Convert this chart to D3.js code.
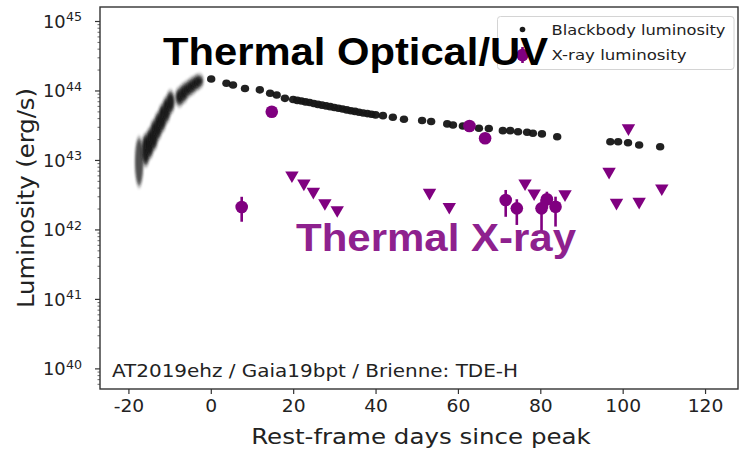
<!DOCTYPE html>
<html>
<head>
<meta charset="utf-8">
<script src="https://cdn.jsdelivr.net/npm/d3@7"></script>
<style>
  html, body { margin: 0; padding: 0; background: #fff; }
  svg { display: block; }
  text { font-family: "DejaVu Sans", sans-serif; }
  text.bold-note { font-family: "Liberation Sans", Arial, sans-serif; font-weight: bold; }
</style>
</head>
<body>
<svg id="chart" width="740" height="449"></svg>
<script>
// Blackbody (optical/UV) luminosity: rest-frame day, erg/s, and log-scatter (dex)
const bbDays = [-17.4, -15.8, -14.8, -13.8, -12.8, -11.8, -10.8, -9.8,
  -7.6, -6.6, -5.6, -4.6, -3.6, -2.8, 0.1, 3.8, 5.4, 8.3, 11.9, 14.4, 16.0, 18.0,
  20, 21, 22, 23, 24, 25, 26, 27, 28, 29, 30, 31, 32, 33, 34, 35, 36, 37, 38, 39, 40,
  41.8, 44.2, 46.9, 51.3, 53.5, 57.4, 58.8, 61.2, 65.1, 67.5, 70.9, 72.7, 74.6, 76.8,
  78.2, 80.4, 84.1, 97.0, 98.9, 101.3, 104.0, 109.1];
const bbLum = [9.4e42, 1.39e43, 1.75e43, 2.29e43, 3.08e43, 4.02e43, 5.24e43, 6.83e43,
  8.05e43, 9.2e43, 1.05e44, 1.16e44, 1.28e44, 1.37e44, 1.46e44, 1.27e44, 1.20e44, 1.07e44,
  1.02e44, 9.1e43, 8.6e43, 7.7e43,
  7.4e43, 7.2e43, 7.05e43, 6.85e43, 6.7e43, 6.5e43, 6.3e43, 6.15e43, 6.0e43, 5.85e43,
  5.7e43, 5.55e43, 5.4e43, 5.25e43, 5.1e43, 5.0e43, 4.87e43, 4.75e43, 4.65e43, 4.55e43, 4.45e43,
  4.34e43, 4.11e43, 3.85e43, 3.70e43, 3.58e43, 3.30e43, 3.19e43, 3.08e43, 2.86e43, 2.84e43,
  2.64e43, 2.64e43, 2.55e43, 2.50e43, 2.42e43, 2.37e43, 2.16e43, 1.83e43, 1.83e43, 1.77e43,
  1.64e43, 1.55e43];
const bbErr = [0.35, 0.22, 0.2, 0.2, 0.18, 0.18, 0.17, 0.15,
  0.12, 0.12, 0.1, 0.1, 0.09, 0.08, 0.05, 0.03, 0.03, 0.03, 0.03, 0.03, 0.03, 0.03,
  0.02, 0.02, 0.02, 0.02, 0.02, 0.02, 0.02, 0.02, 0.02, 0.02, 0.02, 0.02, 0.02, 0.02,
  0.02, 0.02, 0.02, 0.02, 0.02, 0.02, 0.02,
  0.02, 0.02, 0.02, 0.02, 0.02, 0.02, 0.02, 0.02, 0.02, 0.02, 0.02, 0.02, 0.02, 0.02,
  0.02, 0.02, 0.03, 0.05, 0.05, 0.05, 0.05, 0.05];

// X-ray detections: day, luminosity, lower and upper bound (erg/s)
const xrDays = [7.5, 14.8, 62.8, 66.6, 71.6, 74.3, 80.3, 81.6, 83.7];
const xrLum  = [2.1e42, 4.95e43, 3.08e43, 2.05e43, 2.65e42, 2.01e42, 2.01e42, 2.72e42, 2.12e42];
const xrLo   = [1.29e42, 4.95e43, 3.08e43, 2.05e43, 1.52e42, 1.16e42, 9.3e41, 2.0e42, 1.10e42];
const xrHi   = [2.95e42, 4.95e43, 3.08e43, 2.05e43, 3.70e42, 2.72e42, 2.7e42, 3.49e42, 2.96e42];

// X-ray upper limits
const ulDays = [19.7, 22.6, 24.9, 27.7, 30.7, 53.1, 57.9, 76.3, 78.5, 86.0, 96.7, 98.5, 101.4, 104.0, 109.5];
const ulLum  = [6.0e42, 4.6e42, 3.5e42, 2.4e42, 1.9e42, 3.38e42, 2.12e42, 4.61e42, 3.31e42,
  3.21e42, 6.78e42, 2.43e42, 2.86e43, 2.51e42, 3.91e42];

const xTicks = [-20, 0, 20, 40, 60, 80, 100, 120];
const yExponents = [40, 41, 42, 43, 44, 45];
const legendLabels = ["Blackbody luminosity", "X-ray luminosity"];
const sourceLabel = "AT2019ehz / Gaia19bpt / Brienne: TDE-H";
const xTitle = "Rest-frame days since peak";
const yTitle = "Luminosity (erg/s)";
const opticalTitle = "Thermal Optical/UV";
const xrayTitle = "Thermal X-ray";

const PURPLE = "#800080";
const STRETCH = 1.1;

const svg = d3.select("#chart");
const plot = { left: 100, right: 738, top: 7, bottom: 389 };

const x = d3.scaleLinear().domain([-26.9, 128]).range([plot.left, plot.right]);
const y = d3.scaleLog().domain([5.05e39, 1.59e45]).range([plot.bottom, plot.top]);
const pxPerDex = (plot.bottom - plot.top) / Math.log10(1.59e45 / 5.05e39);

// widen glyphs slightly, as in the rest of the figure's typography
function widen(sel, f) {
  sel.each(function () {
    const w = this.getComputedTextLength();
    d3.select(this).attr("textLength", w * (f || STRETCH)).attr("lengthAdjust", "spacingAndGlyphs");
  });
}

const defs = svg.append("defs");
defs.append("filter").attr("id", "smear").attr("x", "-100%").attr("y", "-50%")
  .attr("width", "300%").attr("height", "200%")
  .append("feGaussianBlur").attr("stdDeviation", "1.2 2.6");
defs.append("filter").attr("id", "soft").attr("x", "-50%").attr("y", "-50%")
  .attr("width", "200%").attr("height", "200%")
  .append("feGaussianBlur").attr("stdDeviation", "0.7");

// Axes
const xAxis = d3.axisBottom(x).tickValues(xTicks).tickSize(5).tickPadding(4).tickFormat(d3.format("d"));
const gx = svg.append("g").attr("transform", `translate(0,${plot.bottom})`).call(xAxis);
gx.select(".domain").remove();
gx.selectAll(".tick line").attr("stroke", "#333").attr("stroke-width", 1.2);
gx.selectAll(".tick text").attr("font-size", 17).attr("fill", "#222")
  .attr("y", 11).attr("dy", "0.71em")
  .text(d => d < 0 ? "-" + Math.abs(d) : d);
widen(gx.selectAll(".tick text"));

const majors = yExponents.map(e => Math.pow(10, e));
const minors = [];
for (let e = 39; e <= 45; e++) for (let m = 2; m <= 9; m++) {
  const v = m * Math.pow(10, e);
  if (v >= y.domain()[0] && v <= y.domain()[1]) minors.push(v);
}
const gy = svg.append("g").attr("transform", `translate(${plot.left},0)`);
gy.call(d3.axisLeft(y).tickValues(minors).tickSize(2.5).tickFormat(""));
gy.call(g => g.select(".domain").remove());
gy.selectAll(".tick line").attr("stroke", "#444").attr("stroke-width", 0.8);
const gyMaj = svg.append("g").attr("transform", `translate(${plot.left},0)`)
  .call(d3.axisLeft(y).tickValues(majors).tickSize(5).tickFormat(""));
gyMaj.select(".domain").remove();
gyMaj.selectAll(".tick line").attr("stroke", "#333").attr("stroke-width", 1.2);
const ylab = svg.append("g").selectAll("g").data(yExponents).join("g")
  .attr("transform", e => `translate(0,${y(Math.pow(10, e))})`);
const tenTxt = ylab.append("text").attr("x", 43).attr("y", 7).attr("font-size", 17)
  .attr("fill", "#222").text("10");
widen(tenTxt, 1.05);
const expTxt = ylab.append("text").attr("x", 66).attr("y", 0.5).attr("font-size", 11.5)
  .attr("fill", "#222").text(e => e);
widen(expTxt);

// Frame
svg.append("rect").attr("x", plot.left).attr("y", plot.top)
  .attr("width", plot.right - plot.left).attr("height", plot.bottom - plot.top)
  .attr("fill", "none").attr("stroke", "#333").attr("stroke-width", 1.4);

// Axis titles
const xt = svg.append("text").attr("x", (plot.left + plot.right) / 2 + 2).attr("y", 444)
  .attr("text-anchor", "middle").attr("font-size", 21.5).attr("fill", "#222").text(xTitle);
widen(xt, 1.14);
svg.append("text").attr("transform", "translate(34,198) rotate(-90)")
  .attr("text-anchor", "middle").attr("font-size", 23).attr("fill", "#222")
  .attr("textLength", 220).attr("lengthAdjust", "spacingAndGlyphs").text(yTitle);

// Blackbody luminosity
const bb = bbDays.map((d, i) => ({ d, L: bbLum[i], e: bbErr[i] }));
svg.append("g").selectAll("ellipse").data(bb).join("ellipse")
  .attr("cx", p => x(p.d)).attr("cy", p => y(p.L))
  .attr("rx", p => p.e > 0.06 ? 4.2 : 4.2)
  .attr("ry", p => Math.max(3.8, p.e * pxPerDex))
  .attr("fill", "#151515")
  .attr("opacity", p => p.e > 0.25 ? 0.75 : 0.95)
  .attr("filter", p => p.e > 0.06 ? "url(#smear)" : "url(#soft)");

// X-ray upper limits (downward triangles)
const tri = d3.symbol().type(d3.symbolTriangle).size(78);
svg.append("g").selectAll("path").data(ulDays.map((d, i) => ({ d, L: ulLum[i] }))).join("path")
  .attr("d", tri).attr("fill", PURPLE)
  .attr("transform", p => `translate(${x(p.d)},${y(p.L)}) rotate(180)`);

// X-ray detections with error bars
const xr = xrDays.map((d, i) => ({ d, L: xrLum[i], lo: xrLo[i], hi: xrHi[i] }));
const gxr = svg.append("g");
gxr.selectAll("line").data(xr.filter(p => p.hi > p.lo)).join("line")
  .attr("x1", p => x(p.d)).attr("x2", p => x(p.d))
  .attr("y1", p => y(p.lo)).attr("y2", p => y(p.hi))
  .attr("stroke", PURPLE).attr("stroke-width", 2.6);
gxr.selectAll("circle").data(xr).join("circle")
  .attr("cx", p => x(p.d)).attr("cy", p => y(p.L)).attr("r", 6.3).attr("fill", PURPLE);

// Source label
svg.append("text").attr("x", 112).attr("y", 377).attr("font-size", 17.5)
  .attr("fill", "#222").attr("textLength", 406).attr("lengthAdjust", "spacingAndGlyphs")
  .text(sourceLabel);

// Legend
const lg = svg.append("g");
lg.append("rect").attr("x", 497.5).attr("y", 16.5).attr("width", 236.5).attr("height", 53)
  .attr("rx", 3).attr("fill", "#fff").attr("fill-opacity", 0.85)
  .attr("stroke", "#d4d4d4").attr("stroke-width", 1);
lg.append("circle").attr("cx", 522.5).attr("cy", 29.5).attr("r", 2.8).attr("fill", "#1a1a1a");
lg.append("line").attr("x1", 522.5).attr("x2", 522.5).attr("y1", 47).attr("y2", 63)
  .attr("stroke", PURPLE).attr("stroke-width", 2.6);
lg.append("circle").attr("cx", 522.5).attr("cy", 55).attr("r", 6.3).attr("fill", PURPLE);
const legendWidths = [174, 135];
lg.selectAll("text.lab").data(legendLabels).join("text").attr("class", "lab")
  .attr("x", 551.5).attr("y", (d, i) => 35 + i * 24.5).attr("font-size", 14.5)
  .attr("fill", "#222").attr("textLength", (d, i) => legendWidths[i])
  .attr("lengthAdjust", "spacingAndGlyphs").text(d => d);

// Annotations
svg.append("text").attr("class", "bold-note").attr("x", 163).attr("y", 65)
  .attr("font-size", 39.5).attr("fill", "#000")
  .attr("textLength", 385).attr("lengthAdjust", "spacingAndGlyphs").text(opticalTitle);
svg.append("text").attr("class", "bold-note").attr("x", 296).attr("y", 251)
  .attr("font-size", 39.5).attr("fill", "#8e218e")
  .attr("textLength", 280).attr("lengthAdjust", "spacingAndGlyphs").text(xrayTitle);
</script>
</body>
</html>
